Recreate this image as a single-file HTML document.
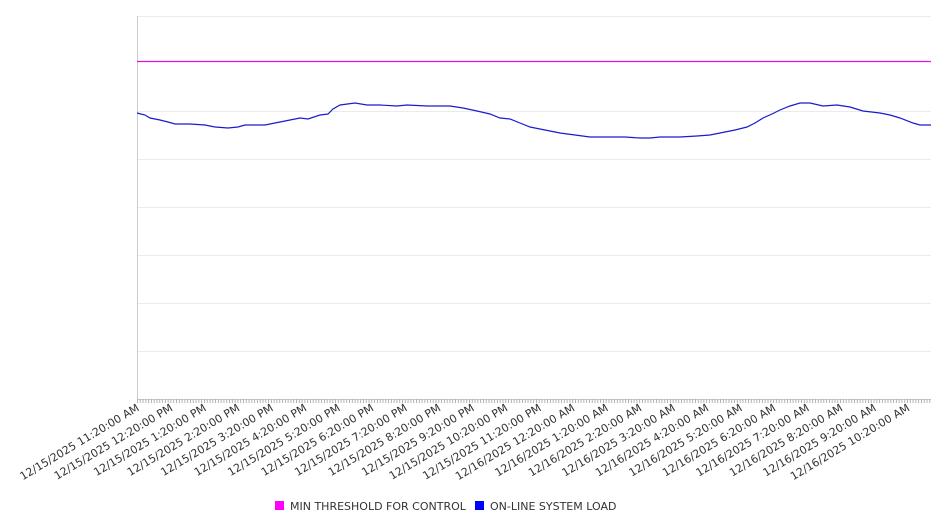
<!DOCTYPE html>
<html><head><meta charset="utf-8"><style>
html,body{margin:0;padding:0;background:#fff;}
svg{display:block;font-family:"DejaVu Sans","Liberation Sans",sans-serif;}
</style></head><body>
<svg width="946" height="526" viewBox="0 0 946 526" xmlns="http://www.w3.org/2000/svg">
<defs>
<pattern id="tk" x="137" y="0" width="2.79" height="10" patternUnits="userSpaceOnUse">
<rect x="0" y="0" width="0.9" height="10" fill="#aaa"/>
</pattern>
</defs>
<g stroke="#ebebeb" stroke-width="1">
<line x1="137" y1="16.5" x2="931" y2="16.5"/>
<line x1="137" y1="111.5" x2="931" y2="111.5"/>
<line x1="137" y1="159.5" x2="931" y2="159.5"/>
<line x1="137" y1="207.5" x2="931" y2="207.5"/>
<line x1="137" y1="255.5" x2="931" y2="255.5"/>
<line x1="137" y1="303.5" x2="931" y2="303.5"/>
<line x1="137" y1="351.5" x2="931" y2="351.5"/>
</g>
<line x1="137.5" y1="16" x2="137.5" y2="399" stroke="#ccc"/>
<line x1="137" y1="399.5" x2="931" y2="399.5" stroke="#ccc"/>
<rect x="137" y="399" width="794" height="4" fill="url(#tk)"/>
<line x1="137" y1="61.5" x2="931" y2="61.5" stroke="#e010e0" stroke-width="1.3"/>
<polyline fill="none" stroke="#1a1ad0" stroke-width="1.2" points="137,113 145,115 150,118 160,120 168,122 175,124 190,124 205,125 215,127 228,128 238,127 245,125 255,125 265,125 280,122 290,120 300,118 308,119 320,115 328,114 333,109 340,105 355,103 367,105 380,105 397,106 407,105 427,106 450,106 463,108 477,111 490,114 500,118 510,119 520,123 530,127 540,129 560,133 575,135 590,137 610,137 625,137 640,138 650,138 660,137 680,137 697,136 710,135 720,133 735,130 747,127 755,123 763,118 772,114 780,110 790,106 800,103 810,103 823,106 837,105 850,107 863,111 880,113 890,115 900,118 913,123 920,125 931,125"/>
<g font-size="11" fill="#333" text-anchor="end">
<text transform="translate(140,410) rotate(-31)">12/15/2025 11:20:00 AM</text>
<text transform="translate(173.5,410) rotate(-31)">12/15/2025 12:20:00 PM</text>
<text transform="translate(207,410) rotate(-31)">12/15/2025 1:20:00 PM</text>
<text transform="translate(240.5,410) rotate(-31)">12/15/2025 2:20:00 PM</text>
<text transform="translate(274,410) rotate(-31)">12/15/2025 3:20:00 PM</text>
<text transform="translate(307.5,410) rotate(-31)">12/15/2025 4:20:00 PM</text>
<text transform="translate(341,410) rotate(-31)">12/15/2025 5:20:00 PM</text>
<text transform="translate(374.5,410) rotate(-31)">12/15/2025 6:20:00 PM</text>
<text transform="translate(408,410) rotate(-31)">12/15/2025 7:20:00 PM</text>
<text transform="translate(441.5,410) rotate(-31)">12/15/2025 8:20:00 PM</text>
<text transform="translate(475,410) rotate(-31)">12/15/2025 9:20:00 PM</text>
<text transform="translate(508.5,410) rotate(-31)">12/15/2025 10:20:00 PM</text>
<text transform="translate(542,410) rotate(-31)">12/15/2025 11:20:00 PM</text>
<text transform="translate(575.5,410) rotate(-31)">12/16/2025 12:20:00 AM</text>
<text transform="translate(609,410) rotate(-31)">12/16/2025 1:20:00 AM</text>
<text transform="translate(642.5,410) rotate(-31)">12/16/2025 2:20:00 AM</text>
<text transform="translate(676,410) rotate(-31)">12/16/2025 3:20:00 AM</text>
<text transform="translate(709.5,410) rotate(-31)">12/16/2025 4:20:00 AM</text>
<text transform="translate(743,410) rotate(-31)">12/16/2025 5:20:00 AM</text>
<text transform="translate(776.5,410) rotate(-31)">12/16/2025 6:20:00 AM</text>
<text transform="translate(810,410) rotate(-31)">12/16/2025 7:20:00 AM</text>
<text transform="translate(843.5,410) rotate(-31)">12/16/2025 8:20:00 AM</text>
<text transform="translate(877,410) rotate(-31)">12/16/2025 9:20:00 AM</text>
<text transform="translate(910.5,410) rotate(-31)">12/16/2025 10:20:00 AM</text>
</g>
<rect x="275" y="501" width="9" height="9" fill="#ff00ff"/>
<text x="290" y="510" font-size="11" fill="#333">MIN THRESHOLD FOR CONTROL</text>
<rect x="475" y="501" width="9" height="9" fill="#0000ff"/>
<text x="490" y="510" font-size="11" fill="#333">ON-LINE SYSTEM LOAD</text>
</svg>
</body></html>
